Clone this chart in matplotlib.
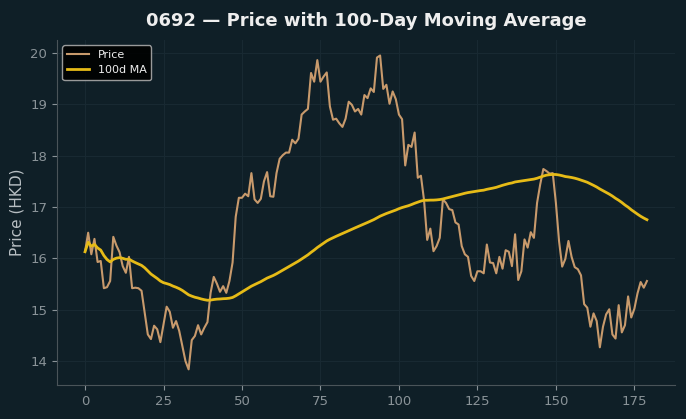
import numpy as np
import pandas as pd
import matplotlib
matplotlib.use("Agg")
import matplotlib.pyplot as plt

# closing prices, one per trading day
price = [
    16.13, 16.50, 16.08, 16.38, 15.93, 15.95, 15.42, 15.44, 15.56, 16.42,
    16.25, 16.12, 15.85, 15.72, 16.03, 15.42, 15.43, 15.42, 15.37, 14.94,
    14.52, 14.43, 14.69, 14.62, 14.37, 14.72, 15.06, 14.96, 14.65, 14.78,
    14.59, 14.30, 14.00, 13.84, 14.41, 14.49, 14.70, 14.52, 14.65, 14.76,
    15.33, 15.64, 15.51, 15.35, 15.46, 15.33, 15.56, 15.92, 16.81, 17.18,
    17.18, 17.26, 17.21, 17.66, 17.15, 17.08, 17.16, 17.50, 17.68, 17.21,
    17.20, 17.66, 17.94, 18.01, 18.06, 18.06, 18.31, 18.24, 18.33, 18.80,
    18.86, 18.91, 19.61, 19.44, 19.86, 19.44, 19.54, 19.62, 18.96, 18.70,
    18.72, 18.63, 18.56, 18.72, 19.05, 18.99, 18.86, 18.91, 18.80, 19.18,
    19.12, 19.31, 19.24, 19.91, 19.95, 19.30, 19.38, 19.01, 19.25, 19.10,
    18.80, 18.71, 17.81, 18.21, 18.17, 18.45, 17.57, 17.61, 17.13, 16.36,
    16.58, 16.14, 16.24, 16.40, 17.15, 17.08, 16.96, 16.94, 16.70, 16.66,
    16.24, 16.08, 16.03, 15.66, 15.56, 15.75, 15.75, 15.71, 16.27, 15.92,
    15.91, 15.71, 16.03, 15.80, 16.16, 16.13, 15.85, 16.47, 15.58, 15.75,
    16.37, 16.21, 16.51, 16.40, 17.08, 17.44, 17.74, 17.70, 17.65, 17.66,
    17.08, 16.34, 15.84, 15.99, 16.34, 16.03, 15.83, 15.79, 15.67, 15.11,
    15.04, 14.67, 14.93, 14.78, 14.27, 14.67, 14.91, 15.01, 14.52, 14.44,
    15.09, 14.56, 14.70, 15.26, 14.85, 15.02, 15.32, 15.54, 15.43, 15.56,
]

s = pd.Series(price)
ma = s.rolling(100, min_periods=1).mean()

bg = "#0f1f27"

fig = plt.figure(figsize=(6.86, 4.19), dpi=100, facecolor=bg)
ax = fig.add_axes([0.083, 0.081, 0.901, 0.824], facecolor=bg)

ax.plot(s.index, s.values, color="#c89a6c", lw=1.5, label="Price")
ax.plot(ma.index, ma.values, color="#e6bb17", lw=2.0, label="100d MA")

ax.grid(True, color="#182932", lw=0.8)
ax.set_axisbelow(True)
for side in ["top", "right"]:
    ax.spines[side].set_visible(False)
for side in ["left", "bottom"]:
    ax.spines[side].set_color("#4a5459")

ax.tick_params(colors="#8a9398", labelsize=9.5)
ax.set_xticks([0, 25, 50, 75, 100, 125, 150, 175])
ax.set_ylabel("Price (HKD)", color="#b8bfc3", fontsize=11)
ax.set_title("0692 — Price with 100-Day Moving Average",
             color="#eeeeee", fontsize=13, fontweight="bold", pad=10)

leg = ax.legend(loc="upper left", fontsize=8, facecolor="#000000",
                edgecolor="#aaaaaa", framealpha=0.9)
for t in leg.get_texts():
    t.set_color("#eeeeee")

fig.savefig("out.png", dpi=100, facecolor=bg)
